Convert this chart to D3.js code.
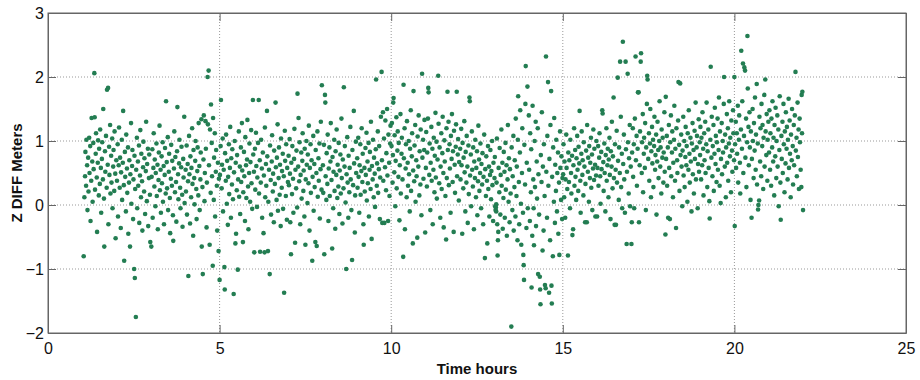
<!DOCTYPE html>
<html>
<head>
<meta charset="utf-8">
<script src="https://cdn.jsdelivr.net/npm/d3@7"></script>
<style>
  body { margin: 0; background: #fff; }
  #chart { width: 920px; height: 380px; }
  .tick text { font-family: "Liberation Sans", Arial, Helvetica, sans-serif; font-size: 16px; fill: #111; }
  .axisTitle { font-family: "Liberation Sans", Arial, Helvetica, sans-serif; font-size: 15px; font-weight: bold; fill: #111; }
</style>
</head>
<body>
<div id="chart"></div>
<script>
// tick values
var xTicks = [0, 5, 10, 15, 20, 25];
var yTicks = [-2, -1, 0, 1, 2, 3];

// [time hours, z diff meters]
var hrs01to03 = [[1.04,-0.80],[1.06,0.12],[1.08,0.45],[1.09,0.83],[1.11,0.30],[1.12,1.02],[1.14,0.62],[1.15,-0.08],[1.17,0.74],[1.18,0.21],[1.20,1.05],[1.21,0.50],[1.23,0.92],[1.24,-0.25],[1.26,0.38],[1.27,1.36],[1.29,0.68],[1.30,0.05],[1.32,0.97],[1.33,0.56],[1.35,2.06],[1.36,1.37],[1.37,0.24],[1.39,0.80],[1.40,1.12],[1.42,0.43],[1.43,-0.42],[1.45,0.66],[1.46,1.01],[1.48,0.15],[1.49,0.88],[1.51,0.33],[1.52,1.18],[1.54,0.58],[1.55,-0.12],[1.57,0.72],[1.58,0.98],[1.60,0.40],[1.61,1.50],[1.63,0.10],[1.64,-0.65],[1.66,0.84],[1.67,0.52],[1.69,1.08],[1.71,0.27],[1.72,1.80],[1.74,0.63],[1.75,1.83],[1.76,-0.30],[1.78,0.91],[1.79,0.47],[1.81,1.25],[1.82,0.18],[1.84,0.77],[1.85,0.35],[1.87,1.04],[1.88,-0.05],[1.90,0.60],[1.91,0.86],[1.93,0.22],[1.94,1.15],[1.96,0.49],[1.97,-0.52],[1.99,0.70],
  [2.01,0.38],[2.03,0.95],[2.04,-0.18],[2.06,0.62],[2.07,1.21],[2.09,0.27],[2.10,0.74],[2.12,-0.36],[2.13,0.51],[2.15,1.02],[2.16,0.08],[2.18,0.66],[2.19,1.47],[2.21,0.31],[2.22,-0.87],[2.24,0.83],[2.25,0.44],[2.27,-0.10],[2.28,1.10],[2.30,0.57],[2.31,0.19],[2.33,0.90],[2.34,-0.45],[2.36,0.35],[2.37,0.70],[2.39,-0.65],[2.40,0.48],[2.42,1.28],[2.43,0.02],[2.45,0.61],[2.46,0.86],[2.48,-0.22],[2.49,0.40],[2.51,-1.00],[2.52,0.77],[2.53,-1.14],[2.54,0.25],[2.56,-1.75],[2.57,0.55],[2.59,1.05],[2.60,-0.05],[2.62,0.68],[2.63,0.30],[2.65,0.93],[2.66,-0.28],[2.68,0.46],[2.69,1.17],[2.71,0.12],[2.72,0.80],[2.74,0.37],[2.75,-0.40],[2.77,0.59],[2.78,0.99],[2.80,0.21],[2.81,0.73],[2.83,-0.14],[2.85,0.53],[2.86,1.30],[2.88,0.06],[2.89,0.64],[2.91,0.88],[2.92,-0.33],[2.94,0.42],[2.95,0.79],[2.97,0.16],[2.98,-0.58]];

var hrs03to06 = [[3.01,-0.65],[3.02,0.44],[3.04,0.87],[3.05,-0.20],[3.07,0.58],[3.08,1.12],[3.10,0.29],[3.11,0.71],[3.13,-0.02],[3.14,0.50],[3.16,0.96],[3.17,0.14],[3.19,0.63],[3.20,-0.38],[3.22,0.39],[3.23,0.82],[3.25,1.24],[3.26,0.23],[3.28,0.55],[3.29,-0.12],[3.31,0.76],[3.32,0.34],[3.34,0.98],[3.35,0.05],[3.37,0.61],[3.38,-0.30],[3.40,0.47],[3.41,0.89],[3.43,0.18],[3.44,1.62],[3.46,0.67],[3.47,0.26],[3.49,1.06],[3.50,-0.08],[3.52,0.52],[3.53,0.80],[3.55,0.11],[3.56,-0.44],[3.58,0.41],[3.59,0.94],[3.61,0.30],[3.62,0.69],[3.64,-0.16],[3.65,-0.56],[3.67,0.57],[3.68,1.15],[3.70,0.20],[3.71,0.75],[3.73,0.36],[3.74,-0.26],[3.76,0.84],[3.77,1.53],[3.79,0.48],[3.80,0.09],[3.82,0.65],[3.83,1.02],[3.85,0.27],[3.86,-0.05],[3.88,0.59],[3.89,0.91],[3.91,0.16],[3.92,-0.34],[3.94,0.72],[3.95,0.43],[3.97,1.38],[3.98,0.03],
  [4.01,0.55],[4.02,0.21],[4.04,0.93],[4.05,-0.15],[4.07,0.64],[4.08,0.37],[4.09,-1.11],[4.11,1.08],[4.12,0.48],[4.14,-0.29],[4.15,0.76],[4.17,0.12],[4.18,0.58],[4.20,1.20],[4.21,0.33],[4.23,-0.48],[4.24,0.86],[4.26,0.42],[4.27,0.01],[4.29,0.69],[4.30,1.00],[4.32,0.25],[4.33,-0.22],[4.35,0.53],[4.36,0.90],[4.38,0.15],[4.39,1.28],[4.41,0.61],[4.42,-0.08],[4.44,0.40],[4.45,0.82],[4.47,1.34],[4.48,-0.65],[4.50,0.28],[4.51,-1.08],[4.53,0.71],[4.54,1.40],[4.56,0.06],[4.57,0.50],[4.59,1.31],[4.60,0.88],[4.62,-0.35],[4.63,0.35],[4.65,2.00],[4.66,1.26],[4.68,2.10],[4.69,0.62],[4.71,-0.62],[4.72,1.18],[4.74,0.19],[4.75,1.57],[4.77,0.97],[4.78,0.45],[4.80,-0.95],[4.81,1.36],[4.83,0.08],[4.84,0.74],[4.86,1.12],[4.87,-0.18],[4.89,0.52],[4.90,0.86],[4.92,0.30],[4.93,-0.40],[4.95,0.66],[4.97,-0.72],[4.98,0.41],
  [5.00,-1.17],[5.01,0.47],[5.03,0.92],[5.04,1.64],[5.06,0.26],[5.07,0.63],[5.09,1.04],[5.10,-0.10],[5.12,0.55],[5.14,-0.97],[5.15,-1.32],[5.16,0.81],[5.18,0.38],[5.19,1.10],[5.21,0.02],[5.22,0.69],[5.24,-0.31],[5.25,0.44],[5.27,0.95],[5.28,0.17],[5.30,0.58],[5.31,1.22],[5.33,-0.20],[5.34,0.73],[5.36,0.32],[5.37,0.87],[5.39,0.09],[5.41,-1.39],[5.42,0.51],[5.44,1.00],[5.46,-0.60],[5.47,0.66],[5.48,-0.45],[5.50,0.23],[5.51,0.78],[5.53,-1.01],[5.54,0.40],[5.56,1.15],[5.57,0.13],[5.59,0.60],[5.60,-0.14],[5.62,0.90],[5.63,0.36],[5.65,1.28],[5.66,0.54],[5.68,-0.58],[5.69,0.20],[5.71,0.83],[5.72,0.45],[5.74,-0.25],[5.75,1.06],[5.77,0.62],[5.78,0.11],[5.80,0.71],[5.81,1.33],[5.83,0.29],[5.84,-0.38],[5.86,0.50],[5.87,0.96],[5.89,0.05],[5.90,0.67],[5.92,1.17],[5.93,0.34],[5.95,-0.06],[5.97,1.64],[5.98,0.79]];

var hrs06to09 = [[6.00,0.52],[6.01,-0.74],[6.03,0.88],[6.04,0.24],[6.06,1.13],[6.07,0.61],[6.09,-0.03],[6.10,0.43],[6.12,0.97],[6.14,1.64],[6.15,0.18],[6.17,0.70],[6.18,-0.73],[6.20,0.35],[6.21,1.02],[6.23,0.57],[6.24,-0.20],[6.26,0.82],[6.28,-0.44],[6.29,0.46],[6.31,-0.74],[6.32,1.21],[6.33,0.12],[6.35,0.64],[6.36,0.30],[6.38,1.47],[6.39,0.76],[6.41,-0.72],[6.42,0.05],[6.44,0.55],[6.46,-1.08],[6.47,0.93],[6.49,0.39],[6.50,-0.15],[6.52,0.68],[6.53,1.09],[6.55,0.21],[6.56,0.49],[6.58,-0.27],[6.59,0.85],[6.61,0.33],[6.63,1.60],[6.64,0.59],[6.66,0.08],[6.67,0.74],[6.69,1.26],[6.70,-0.09],[6.72,0.42],[6.73,0.90],[6.75,0.16],[6.76,0.63],[6.78,-0.33],[6.79,1.04],[6.81,0.27],[6.82,0.53],[6.84,0.80],[6.85,-0.06],[6.87,0.45],[6.88,-1.37],[6.90,1.16],[6.91,0.69],[6.93,0.14],[6.94,0.95],[6.96,-0.23],[6.97,0.58],[6.99,0.36],
  [7.01,0.77],[7.02,0.31],[7.04,1.03],[7.05,0.49],[7.06,-0.27],[7.08,-0.77],[7.09,0.66],[7.11,0.17],[7.12,0.92],[7.14,0.41],[7.15,-0.12],[7.17,0.72],[7.18,1.19],[7.20,-0.59],[7.21,0.55],[7.23,0.26],[7.24,0.85],[7.26,-0.04],[7.27,1.74],[7.29,0.60],[7.30,1.36],[7.32,0.37],[7.33,0.98],[7.35,-0.30],[7.36,0.47],[7.38,0.82],[7.39,0.10],[7.41,0.69],[7.42,1.12],[7.44,0.22],[7.45,0.54],[7.47,-0.18],[7.48,0.88],[7.50,-0.62],[7.51,0.40],[7.53,1.00],[7.54,0.63],[7.56,0.03],[7.57,0.79],[7.59,0.34],[7.60,1.24],[7.62,-0.40],[7.63,0.58],[7.65,0.95],[7.66,0.19],[7.68,0.70],[7.70,-0.87],[7.71,0.44],[7.73,1.08],[7.74,-0.09],[7.76,0.64],[7.77,0.28],[7.79,-0.58],[7.80,0.86],[7.82,0.50],[7.83,-0.64],[7.85,1.15],[7.86,0.13],[7.88,0.73],[7.89,0.38],[7.91,0.96],[7.92,-0.21],[7.94,0.56],[7.95,1.30],[7.97,0.24],[7.98,1.87],
  [8.01,0.62],[8.02,0.19],[8.04,0.94],[8.05,-0.77],[8.07,1.72],[8.08,1.60],[8.09,0.45],[8.11,0.08],[8.12,0.81],[8.14,0.33],[8.15,1.10],[8.17,-0.25],[8.18,0.57],[8.20,0.90],[8.21,0.14],[8.23,0.68],[8.24,1.28],[8.26,0.39],[8.28,-0.68],[8.29,0.75],[8.31,-0.05],[8.32,0.52],[8.34,1.02],[8.35,0.22],[8.37,-0.37],[8.38,0.84],[8.40,0.47],[8.41,1.18],[8.43,0.11],[8.44,0.63],[8.46,0.29],[8.47,0.97],[8.49,-0.14],[8.50,0.54],[8.52,0.79],[8.53,0.18],[8.55,1.35],[8.56,0.42],[8.58,-0.29],[8.59,0.71],[8.61,0.26],[8.62,1.84],[8.64,0.60],[8.65,0.92],[8.67,0.04],[8.69,-1.00],[8.70,0.48],[8.72,1.06],[8.73,0.35],[8.75,-0.20],[8.76,0.77],[8.78,0.20],[8.79,0.58],[8.81,1.22],[8.82,0.40],[8.84,-0.08],[8.86,-0.86],[8.87,0.86],[8.89,0.31],[8.91,1.47],[8.92,0.65],[8.94,-0.43],[8.95,0.15],[8.97,0.99],[8.98,0.50]];

var hrs09to12 = [[9.01,0.73],[9.02,0.27],[9.04,1.05],[9.05,0.44],[9.07,-0.12],[9.08,0.62],[9.10,0.95],[9.11,0.16],[9.13,0.53],[9.14,1.20],[9.16,0.36],[9.17,0.80],[9.19,-0.30],[9.20,-0.62],[9.22,0.58],[9.23,0.21],[9.25,0.89],[9.26,0.47],[9.28,1.13],[9.29,0.07],[9.31,0.68],[9.32,0.34],[9.34,0.97],[9.35,-0.18],[9.37,0.55],[9.38,0.83],[9.40,0.25],[9.41,1.30],[9.43,-0.53],[9.44,0.61],[9.46,0.40],[9.47,1.02],[9.49,0.12],[9.50,0.74],[9.52,0.49],[9.53,-0.03],[9.55,0.87],[9.56,1.96],[9.58,0.30],[9.59,0.65],[9.61,1.15],[9.62,0.19],[9.64,0.56],[9.65,0.92],[9.67,-0.22],[9.68,0.43],[9.70,1.38],[9.72,2.08],[9.73,0.70],[9.74,-0.28],[9.76,1.45],[9.77,0.38],[9.79,1.04],[9.80,-0.28],[9.82,0.59],[9.83,1.32],[9.85,0.23],[9.86,0.81],[9.88,1.50],[9.89,0.46],[9.91,-0.25],[9.92,1.10],[9.94,0.66],[9.95,0.14],[9.97,0.96],[9.98,1.24],
  [10.01,0.92],[10.02,1.28],[10.04,0.35],[10.05,0.78],[10.06,1.60],[10.07,1.67],[10.09,0.51],[10.10,1.09],[10.12,-0.02],[10.13,0.69],[10.15,1.37],[10.16,0.26],[10.18,0.85],[10.19,1.15],[10.21,0.44],[10.22,0.97],[10.24,-0.24],[10.25,0.62],[10.27,1.42],[10.28,0.18],[10.30,0.80],[10.31,1.05],[10.33,0.40],[10.35,-0.81],[10.36,1.88],[10.37,0.73],[10.39,1.20],[10.40,-0.38],[10.42,0.57],[10.43,0.95],[10.45,0.12],[10.46,1.31],[10.48,0.66],[10.49,0.30],[10.51,1.00],[10.52,0.48],[10.54,-0.10],[10.55,0.88],[10.57,1.48],[10.58,0.22],[10.60,0.76],[10.61,1.12],[10.63,-0.60],[10.64,0.54],[10.65,1.78],[10.67,0.37],[10.68,0.93],[10.70,1.25],[10.71,0.05],[10.73,0.70],[10.74,0.45],[10.76,-0.51],[10.77,1.07],[10.79,0.60],[10.80,1.40],[10.82,0.15],[10.83,0.84],[10.85,0.32],[10.86,1.18],[10.88,-0.16],[10.90,2.05],[10.91,0.74],[10.93,1.02],[10.94,0.41],[10.96,0.86],[10.97,1.33],[10.99,-0.43],
  [11.01,0.58],[11.02,1.14],[11.04,0.29],[11.05,0.82],[11.07,1.35],[11.08,1.83],[11.09,1.76],[11.11,0.47],[11.12,0.96],[11.14,-0.08],[11.15,0.66],[11.17,1.22],[11.18,0.38],[11.20,0.88],[11.21,-0.30],[11.23,0.55],[11.24,1.05],[11.26,0.20],[11.27,0.77],[11.29,1.44],[11.30,0.43],[11.32,0.99],[11.33,0.10],[11.35,0.71],[11.37,2.02],[11.38,1.27],[11.40,0.34],[11.41,0.90],[11.43,-0.20],[11.44,0.60],[11.46,1.12],[11.47,0.25],[11.49,0.81],[11.50,1.38],[11.52,0.50],[11.53,-0.35],[11.55,1.01],[11.56,0.68],[11.58,0.14],[11.60,-0.54],[11.61,1.20],[11.62,0.42],[11.64,1.77],[11.65,0.86],[11.67,1.30],[11.68,0.31],[11.70,0.95],[11.71,0.57],[11.73,-0.12],[11.74,1.08],[11.76,0.72],[11.77,1.42],[11.79,0.36],[11.80,0.84],[11.82,-0.42],[11.83,1.16],[11.85,0.63],[11.86,0.19],[11.88,0.91],[11.89,1.26],[11.91,1.77],[11.92,0.45],[11.94,0.79],[11.95,1.03],[11.97,0.07],[11.98,0.67]];

var hrs12to15 = [[12.01,0.88],[12.02,0.40],[12.04,1.19],[12.05,0.62],[12.07,-0.45],[12.08,0.97],[12.10,0.26],[12.11,0.74],[12.13,1.31],[12.14,0.51],[12.16,-0.10],[12.17,0.83],[12.19,0.35],[12.20,1.08],[12.22,0.60],[12.23,-0.28],[12.25,0.93],[12.26,0.17],[12.28,1.68],[12.29,1.62],[12.30,0.46],[12.32,0.79],[12.33,-0.02],[12.35,1.15],[12.36,0.55],[12.38,0.29],[12.39,0.90],[12.41,-0.38],[12.42,0.68],[12.44,0.42],[12.45,1.02],[12.47,0.12],[12.48,0.58],[12.50,0.84],[12.51,-0.16],[12.53,0.37],[12.54,1.24],[12.56,0.71],[12.57,0.22],[12.59,0.50],[12.60,0.96],[12.62,-0.05],[12.63,0.64],[12.65,0.32],[12.66,0.81],[12.68,-0.30],[12.69,0.44],[12.71,1.10],[12.73,-0.83],[12.74,0.56],[12.76,0.14],[12.77,0.76],[12.79,0.38],[12.80,-0.60],[12.82,0.92],[12.83,0.25],[12.85,0.60],[12.86,-0.18],[12.88,0.47],[12.89,0.86],[12.91,0.09],[12.92,0.53],[12.94,1.00],[12.95,0.31],[12.97,-0.25],[12.98,0.66],
  [13.01,0.42],[13.02,0.75],[13.03,-0.02],[13.04,-0.08],[13.05,-0.04],[13.06,0.01],[13.06,-0.10],[13.07,0.35],[13.08,1.04],[13.09,-0.30],[13.10,-0.79],[13.11,-0.55],[13.12,-0.42],[13.13,0.58],[13.15,0.20],[13.16,0.89],[13.18,-0.15],[13.19,0.47],[13.21,1.18],[13.22,0.30],[13.24,0.66],[13.25,-0.37],[13.27,0.11],[13.28,0.83],[13.30,0.52],[13.31,-0.20],[13.33,0.97],[13.34,0.24],[13.36,0.62],[13.37,-0.48],[13.39,0.40],[13.40,1.25],[13.42,0.05],[13.43,0.73],[13.45,-0.27],[13.46,0.56],[13.48,0.18],[13.50,-1.90],[13.51,0.90],[13.53,-0.08],[13.54,0.45],[13.56,1.08],[13.57,-0.40],[13.59,0.28],[13.60,0.70],[13.62,-0.18],[13.63,1.35],[13.65,0.14],[13.66,0.60],[13.68,-0.55],[13.69,1.02],[13.70,1.70],[13.72,0.36],[13.73,-0.30],[13.75,0.82],[13.76,1.48],[13.78,0.02],[13.79,-0.62],[13.81,0.50],[13.82,1.20],[13.84,-0.12],[13.85,-0.78],[13.86,-0.94],[13.87,-1.17],[13.88,0.94],[13.90,0.32],[13.91,1.58],[13.92,2.17],[13.94,-0.36],[13.95,0.66],[13.97,1.85],[13.98,-0.05],
  [14.01,1.40],[14.02,0.55],[14.04,-0.25],[14.05,1.12],[14.07,0.20],[14.08,0.87],[14.09,-1.29],[14.11,-0.48],[14.12,1.55],[14.14,0.40],[14.15,-0.05],[14.16,-0.63],[14.18,1.00],[14.19,0.28],[14.21,1.30],[14.22,-0.33],[14.24,0.68],[14.25,0.10],[14.27,1.20],[14.28,-1.08],[14.29,0.48],[14.31,-0.15],[14.33,-1.12],[14.34,-1.32],[14.35,-1.55],[14.36,0.78],[14.38,0.36],[14.39,1.45],[14.41,-0.71],[14.42,0.60],[14.44,-0.40],[14.45,0.95],[14.47,0.14],[14.48,-1.25],[14.50,-1.30],[14.51,2.32],[14.52,0.52],[14.54,-0.20],[14.55,1.08],[14.57,1.92],[14.58,0.30],[14.60,-1.37],[14.61,0.72],[14.63,-0.55],[14.64,1.25],[14.66,1.78],[14.67,-1.26],[14.68,-1.54],[14.69,0.44],[14.71,-0.80],[14.72,0.90],[14.74,0.05],[14.75,1.36],[14.77,-0.28],[14.78,0.63],[14.80,0.22],[14.81,1.02],[14.83,-0.10],[14.84,0.50],[14.86,0.82],[14.87,-0.45],[14.89,0.35],[14.90,-0.78],[14.92,1.15],[14.93,0.58],[14.95,0.08],[14.96,0.76],[14.98,-0.22],[14.99,0.42]];

var hrs15to18 = [[15.01,0.48],[15.02,0.95],[15.04,0.12],[15.05,0.68],[15.07,-0.20],[15.08,0.40],[15.10,1.10],[15.11,0.58],[15.13,0.25],[15.15,-0.79],[15.16,0.82],[15.18,0.36],[15.19,0.70],[15.21,-0.05],[15.22,1.02],[15.24,0.50],[15.25,0.18],[15.27,0.77],[15.28,-0.47],[15.30,-0.38],[15.31,0.62],[15.33,1.20],[15.34,0.30],[15.36,0.86],[15.37,0.44],[15.39,0.08],[15.40,0.73],[15.42,1.08],[15.43,0.55],[15.45,0.22],[15.46,0.91],[15.48,0.65],[15.49,1.47],[15.51,0.38],[15.52,-0.12],[15.54,0.80],[15.55,1.15],[15.57,0.47],[15.58,0.70],[15.60,0.15],[15.61,0.98],[15.63,0.60],[15.65,-0.27],[15.66,0.33],[15.68,0.85],[15.70,-0.27],[15.71,1.25],[15.73,0.52],[15.74,0.74],[15.76,0.05],[15.77,0.92],[15.79,0.42],[15.80,0.66],[15.82,1.05],[15.83,0.27],[15.85,0.79],[15.86,-0.08],[15.88,0.57],[15.89,1.18],[15.91,0.39],[15.92,0.88],[15.94,0.63],[15.95,-0.18],[15.97,0.46],[15.98,1.00],
  [16.00,-0.18],[16.01,0.58],[16.03,0.92],[16.04,0.30],[16.06,0.74],[16.07,1.12],[16.09,0.45],[16.10,0.02],[16.12,0.83],[16.13,0.56],[16.15,1.48],[16.16,1.43],[16.18,0.67],[16.19,0.22],[16.21,0.96],[16.22,0.50],[16.24,-0.10],[16.25,0.78],[16.27,1.20],[16.28,0.38],[16.30,0.62],[16.31,0.88],[16.33,0.12],[16.34,0.71],[16.36,1.05],[16.37,0.47],[16.39,-0.22],[16.40,0.84],[16.42,0.60],[16.43,1.30],[16.45,0.26],[16.46,0.76],[16.48,1.68],[16.49,0.42],[16.51,-0.31],[16.52,0.95],[16.54,0.55],[16.55,-0.31],[16.57,1.16],[16.58,0.35],[16.60,1.99],[16.61,0.69],[16.63,0.08],[16.64,0.90],[16.66,0.50],[16.67,2.24],[16.69,1.38],[16.70,0.28],[16.72,0.80],[16.73,-0.05],[16.75,2.55],[16.76,0.64],[16.78,1.10],[16.79,0.40],[16.81,-0.12],[16.83,2.24],[16.84,0.87],[16.86,-0.61],[16.87,0.52],[16.89,2.05],[16.90,0.98],[16.92,0.18],[16.93,0.73],[16.95,1.25],[16.96,-0.02],[16.98,0.60],
  [17.00,-0.61],[17.01,-0.27],[17.02,0.82],[17.04,1.20],[17.05,0.44],[17.07,0.95],[17.08,-0.05],[17.10,1.35],[17.12,2.32],[17.13,0.70],[17.15,1.08],[17.16,0.30],[17.18,0.88],[17.19,1.76],[17.21,1.76],[17.22,-0.27],[17.24,0.62],[17.25,1.15],[17.27,2.24],[17.28,2.37],[17.30,0.50],[17.31,0.98],[17.33,1.42],[17.34,0.20],[17.36,0.80],[17.37,1.05],[17.39,0.58],[17.40,1.28],[17.42,-0.08],[17.43,0.90],[17.45,1.58],[17.46,2.02],[17.47,1.96],[17.49,0.72],[17.51,1.12],[17.52,0.38],[17.54,0.96],[17.55,1.50],[17.57,0.12],[17.58,0.84],[17.60,1.22],[17.61,0.65],[17.63,1.02],[17.64,0.28],[17.66,0.92],[17.67,1.38],[17.69,0.55],[17.70,0.78],[17.72,1.10],[17.73,-0.15],[17.75,0.68],[17.76,1.30],[17.78,0.86],[17.79,0.42],[17.81,1.00],[17.82,1.62],[17.84,0.60],[17.85,0.90],[17.87,0.18],[17.88,1.18],[17.90,0.74],[17.91,1.05],[17.93,0.35],[17.94,0.82],[17.96,1.45],[17.97,0.52],[17.99,-0.46]];

var hrs18to22 = [[18.00,1.69],[18.01,0.72],[18.03,1.08],[18.04,0.30],[18.06,0.90],[18.07,-0.20],[18.09,1.25],[18.10,0.58],[18.12,-0.22],[18.13,0.98],[18.15,1.40],[18.16,0.45],[18.18,0.82],[18.19,1.15],[18.21,0.12],[18.22,0.66],[18.24,1.02],[18.25,1.55],[18.27,0.38],[18.28,0.88],[18.30,-0.36],[18.31,1.20],[18.33,0.70],[18.34,0.50],[18.36,1.32],[18.37,1.92],[18.39,0.94],[18.40,0.22],[18.42,1.90],[18.43,0.78],[18.45,1.10],[18.46,0.60],[18.48,-0.02],[18.49,0.85],[18.51,1.38],[18.52,0.46],[18.54,1.00],[18.55,0.28],[18.57,0.75],[18.58,1.22],[18.60,0.62],[18.61,0.92],[18.63,0.05],[18.64,1.12],[18.66,0.55],[18.67,1.48],[18.69,0.80],[18.70,0.35],[18.72,1.05],[18.73,0.68],[18.75,-0.10],[18.76,0.96],[18.78,1.28],[18.79,0.48],[18.81,0.86],[18.82,0.18],[18.84,1.16],[18.85,0.72],[18.87,1.60],[18.88,0.40],[18.90,0.90],[18.91,1.08],[18.93,-0.05],[18.94,0.64],[18.96,1.34],[18.97,0.52],[18.99,0.98],
  [19.00,0.78],[19.01,1.22],[19.03,0.40],[19.04,1.05],[19.06,0.62],[19.07,1.45],[19.09,0.88],[19.10,0.15],[19.12,1.12],[19.13,0.70],[19.15,1.30],[19.16,0.50],[19.18,0.95],[19.19,1.60],[19.21,0.28],[19.22,0.84],[19.24,1.18],[19.25,0.58],[19.27,0.06],[19.28,-0.21],[19.30,1.02],[19.31,2.16],[19.33,0.74],[19.34,1.38],[19.36,0.45],[19.37,0.92],[19.39,1.25],[19.40,0.22],[19.42,0.80],[19.43,1.52],[19.45,0.64],[19.46,1.08],[19.48,0.36],[19.49,0.98],[19.51,1.35],[19.52,0.55],[19.54,0.86],[19.55,1.68],[19.57,0.30],[19.58,1.15],[19.60,0.03],[19.61,0.72],[19.63,1.28],[19.64,0.48],[19.66,1.00],[19.67,0.82],[19.69,1.58],[19.70,2.00],[19.72,0.60],[19.73,1.10],[19.75,0.12],[19.76,0.90],[19.78,1.42],[19.79,0.66],[19.81,1.20],[19.82,0.38],[19.84,0.96],[19.85,1.62],[19.87,0.76],[19.88,1.05],[19.90,0.20],[19.91,1.32],[19.93,0.85],[19.94,0.52],[19.96,1.48],[19.97,1.12],[19.99,0.70],
  [20.00,2.00],[20.01,-0.33],[20.02,0.95],[20.04,1.30],[20.05,0.58],[20.07,1.12],[20.08,0.80],[20.10,1.55],[20.11,0.35],[20.13,1.02],[20.14,1.40],[20.16,0.66],[20.17,0.18],[20.19,1.18],[20.20,2.41],[20.22,0.88],[20.23,1.62],[20.25,2.21],[20.26,0.50],[20.28,1.08],[20.29,2.15],[20.31,2.10],[20.32,0.74],[20.34,1.35],[20.35,0.28],[20.37,0.98],[20.38,2.64],[20.39,1.82],[20.41,1.22],[20.42,0.62],[20.44,1.45],[20.45,0.90],[20.47,0.08],[20.48,1.15],[20.50,-0.20],[20.51,0.72],[20.53,1.50],[20.54,1.00],[20.56,0.42],[20.57,1.28],[20.59,0.85],[20.60,1.68],[20.62,0.55],[20.63,1.10],[20.65,1.89],[20.66,0.32],[20.68,0.96],[20.69,-0.07],[20.70,0.00],[20.72,0.07],[20.73,1.38],[20.75,0.68],[20.76,1.20],[20.78,0.45],[20.79,1.58],[20.81,0.92],[20.82,1.25],[20.84,0.25],[20.85,1.05],[20.87,1.72],[20.88,0.60],[20.90,1.96],[20.91,1.15],[20.93,0.78],[20.94,1.42],[20.96,0.38],[20.97,1.02],[20.99,1.30],
  [21.01,0.82],[21.02,1.48],[21.04,0.55],[21.05,1.12],[21.07,0.30],[21.08,1.35],[21.10,0.90],[21.11,1.62],[21.13,0.68],[21.14,1.05],[21.16,0.15],[21.17,1.25],[21.19,0.76],[21.20,1.52],[21.22,0.42],[21.23,1.00],[21.25,1.40],[21.26,0.60],[21.28,1.18],[21.29,-0.02],[21.31,0.86],[21.32,1.70],[21.34,0.35],[21.35,-0.23],[21.37,1.08],[21.38,0.72],[21.40,1.30],[21.41,0.50],[21.43,1.58],[21.44,0.95],[21.46,0.20],[21.47,1.15],[21.49,0.65],[21.50,1.45],[21.52,0.88],[21.53,1.22],[21.55,0.40],[21.56,1.02],[21.58,1.66],[21.59,0.58],[21.61,1.32],[21.62,0.80],[21.64,0.12],[21.65,1.10],[21.67,0.70],[21.68,1.50],[21.70,0.92],[21.71,0.32],[21.73,1.25],[21.74,0.62],[21.76,1.40],[21.78,2.08],[21.79,0.85],[21.81,1.05],[21.82,0.45],[21.84,1.60],[21.85,0.75],[21.87,1.18],[21.88,0.25],[21.90,1.35],[21.91,0.98],[21.93,0.55],[21.95,0.28],[21.96,1.72],[21.97,1.12],[21.98,1.77],[22.00,-0.08]];

var zData = [].concat(hrs01to03, hrs03to06, hrs06to09, hrs09to12, hrs12to15, hrs15to18, hrs18to22);

var margin = {top: 13, right: 14, bottom: 47, left: 48},
  width = 920 - margin.left - margin.right,
  height = 380 - margin.top - margin.bottom;

var fmt = d3.format("d");

var svg = d3.select("#chart").append("svg")
  .attr("width", 920)
  .attr("height", 380);

var g = svg.append("g")
  .attr("transform", "translate(" + margin.left + "," + margin.top + ")");

var xScale = d3.scaleLinear().domain([0, 25]).range([0, width]);
var yScale = d3.scaleLinear().domain([-2, 3]).range([height, 0]);

// dotted grid
g.append("g").selectAll("line.vgrid")
  .data(xTicks.slice(1, -1))
  .enter().append("line")
  .attr("x1", function(d) { return xScale(d); })
  .attr("x2", function(d) { return xScale(d); })
  .attr("y1", 0)
  .attr("y2", height)
  .attr("stroke", "#999")
  .attr("stroke-width", 1)
  .attr("stroke-dasharray", "1,2");

g.append("g").selectAll("line.hgrid")
  .data(yTicks.slice(1, -1))
  .enter().append("line")
  .attr("x1", 0)
  .attr("x2", width)
  .attr("y1", function(d) { return yScale(d); })
  .attr("y2", function(d) { return yScale(d); })
  .attr("stroke", "#999")
  .attr("stroke-width", 1)
  .attr("stroke-dasharray", "1,2");

// points
g.append("g").selectAll("circle")
  .data(zData)
  .enter().append("circle")
  .attr("cx", function(d) { return xScale(d[0]); })
  .attr("cy", function(d) { return yScale(d[1]); })
  .attr("r", 2.3)
  .attr("fill", "#237d52");

// axes, ticks pointing inward
g.append("g")
  .attr("transform", "translate(0," + height + ")")
  .call(d3.axisBottom(xScale).tickValues(xTicks).tickFormat(fmt).tickSize(-8).tickPadding(10).tickSizeOuter(0));

g.append("g")
  .call(d3.axisLeft(yScale).tickValues(yTicks).tickFormat(fmt).tickSize(-8).tickPadding(4).tickSizeOuter(0));

g.append("g")
  .call(d3.axisTop(xScale).tickValues(xTicks).tickSize(-8).tickSizeOuter(0))
  .selectAll("text").remove();

g.append("g")
  .attr("transform", "translate(" + width + ",0)")
  .call(d3.axisRight(yScale).tickValues(yTicks).tickSize(-8).tickSizeOuter(0))
  .selectAll("text").remove();

g.selectAll(".domain").attr("stroke", "#666");
g.selectAll(".tick line").attr("stroke", "#666");

// frame
g.append("rect")
  .attr("x", 0)
  .attr("y", 0)
  .attr("width", width)
  .attr("height", height)
  .attr("fill", "none")
  .attr("stroke", "#666")
  .attr("stroke-width", 1);

// titles
svg.append("text")
  .attr("class", "axisTitle")
  .attr("x", margin.left + width / 2)
  .attr("y", 374)
  .attr("text-anchor", "middle")
  .text("Time hours");

svg.append("text")
  .attr("class", "axisTitle")
  .attr("transform", "translate(22," + (margin.top + height / 2) + ") rotate(-90)")
  .attr("text-anchor", "middle")
  .text("Z DIFF Meters");
</script>
</body>
</html>
